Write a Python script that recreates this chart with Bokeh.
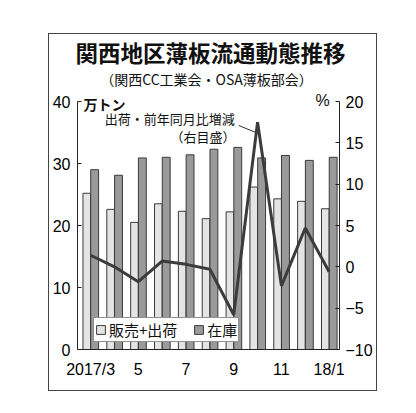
from bokeh.plotting import figure
from bokeh.models import (ColumnDataSource, Range1d, LinearAxis, FixedTicker, Label,
                          Legend, LegendItem, Title)
from bokeh.transform import dodge
from bokeh.embed import file_html
from bokeh.resources import INLINE

# ---- data ----
months = ["2017/3", "4", "5", "6", "7", "8", "9", "10", "11", "12", "18/1"]
tick_labels = {0: "2017/3", 2: "5", 4: "7", 6: "9", 8: "11", 10: "18/1"}
sales = [25.2, 22.6, 20.5, 23.5, 22.3, 21.1, 22.2, 26.2, 24.3, 23.9, 22.7]
stock = [29.0, 28.1, 30.9, 31.0, 31.4, 32.3, 32.6, 30.9, 31.3, 30.5, 31.0]
yoy = [1.4, 0.0, -1.8, 0.7, 0.3, -0.3, -5.8, 17.5, -2.3, 4.7, -0.6]

JP = "Noto Sans CJK JP"
NUM = "Liberation Sans Narrow, Liberation Sans"

src = ColumnDataSource(dict(x=list(range(len(months))), sales=sales, stock=stock, yoy=yoy))

Y_TOP = 45.0
p = figure(width=327, height=356, output_backend="svg", toolbar_location=None,
           x_range=Range1d(-0.549, 10.435), y_range=Range1d(0, Y_TOP),
           min_border_left=28, min_border_right=39, min_border_top=34, min_border_bottom=43)
p.outline_line_color = None
p.grid.visible = False
p.background_fill_color = "white"
p.border_fill_color = "white"
p.styles = {"margin-left": "48px", "margin-top": "33px", "border": "1px solid #444444",
            "box-sizing": "content-box"}

p.extra_y_ranges = {"pct": Range1d(-10, Y_TOP * 0.75 - 10)}

light = p.vbar(x=dodge("x", -0.16, range=p.x_range), top="sales", width=0.32, source=src,
               fill_color="#e4e4e4", line_color="#3a3a3a", line_width=1)
dark = p.vbar(x=dodge("x", 0.17, range=p.x_range), top="stock", width=0.33, source=src,
              fill_color="#9a9a9a", line_color="#3a3a3a", line_width=1)
p.line(x="x", y="yoy", source=src, y_range_name="pct", line_color="#3c3c3c", line_width=3)

# title
p.add_layout(Title(text="関西地区薄板流通動態推移", text_font=JP, text_font_size="22.5px",
                   text_font_style="bold", text_color="#111111", align="left", offset=-2,
                   standoff=2, vertical_align="top"), "above")

# axes
xa = p.xaxis[0]
xa.ticker = FixedTicker(ticks=list(tick_labels.keys()))
xa.major_label_overrides = tick_labels
xa.major_tick_line_color = None
xa.minor_tick_line_color = None
xa.axis_line_color = "#222222"
xa.major_label_text_font = NUM
xa.major_label_text_font_size = "16px"
xa.major_label_text_color = "black"
xa.major_label_standoff = 5

ya = p.yaxis[0]
ya.ticker = FixedTicker(ticks=[0, 10, 20, 30, 40])
ya.bounds = (0, 40)
ya.major_tick_in = 4
ya.major_tick_out = 0
ya.minor_tick_line_color = None
ya.axis_line_color = "#222222"
ya.major_tick_line_color = "#222222"
ya.major_label_text_font = NUM
ya.major_label_text_font_size = "16px"
ya.major_label_text_color = "black"
ya.major_label_standoff = 7

ra = LinearAxis(y_range_name="pct")
ra.ticker = FixedTicker(ticks=[-10, -5, 0, 5, 10, 15, 20])
ra.bounds = (-10, 20)
ra.major_label_overrides = {-10: "\u221210", -5: "\u22125"}
ra.major_tick_in = 4
ra.major_tick_out = 0
ra.minor_tick_line_color = None
ra.axis_line_color = "#222222"
ra.major_tick_line_color = "#222222"
ra.major_label_text_font = NUM
ra.major_label_text_font_size = "16px"
ra.major_label_text_color = "black"
ra.major_label_standoff = 6
p.add_layout(ra, "right")

# legend
leg = Legend(items=[LegendItem(label="販売+出荷", renderers=[light]),
                    LegendItem(label="在庫", renderers=[dark])],
             orientation="horizontal", location=(16, 7),
             glyph_width=11, glyph_height=11, label_height=12,
             label_text_font=JP, label_text_font_size="15px", label_text_color="#111111",
             label_standoff=3, spacing=16, padding=1, margin=0,
             border_line_color="#222222", border_line_width=1,
             background_fill_color="white", background_fill_alpha=1.0)
p.add_layout(leg, "center")

# texts
def lab(x, y, t, size, align="left", bold=False, font=JP):
    p.add_layout(Label(x=x, y=y, text=t, text_font=font, text_font_size=size,
                       text_align=align, text_baseline="middle", text_color="#111111",
                       text_font_style="bold" if bold else "normal"))

lab(4.86, 43.63, "（関西CC工業会・OSA薄板部会）", "14px", "center")
lab(-0.296, 39.52, "万トン", "14px", "left", bold=True)
lab(10.03, 40.16, "%", "16px", "right", font=NUM)
lab(6.04, 37.26, "出荷・前年同月比増減", "13px", "right")
lab(6.08, 34.35, "（右目盛）", "13px", "right")
p.segment(x0=[6.21], y0=[36.13], x1=[6.93], y1=[35.0], line_color="#333333", line_width=1)

open("out.html", "w").write(file_html(p, INLINE))
